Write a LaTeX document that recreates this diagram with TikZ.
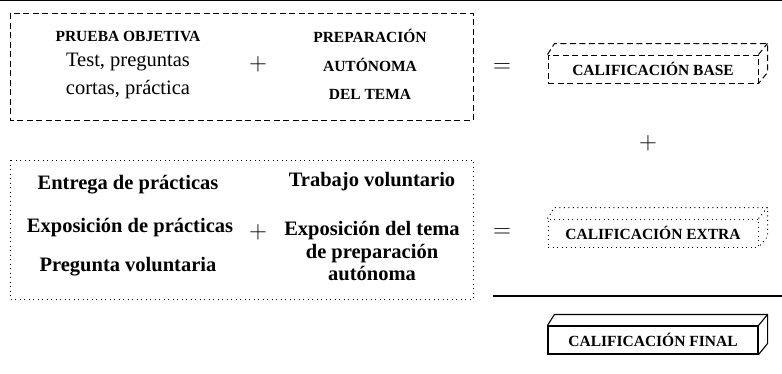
\documentclass[tikz,border=0pt]{standalone}
\usepackage{fontspec}
\setmainfont{Liberation Serif}
\usetikzlibrary{positioning}

\tikzset{
  head/.style={font=\bfseries\fontsize{15.5}{18}\selectfont},
  plain/.style={font=\fontsize{20.5}{24}\selectfont},
  item/.style={font=\bfseries\fontsize{20.5}{22.5}\selectfont},
  sign/.style={font=\fontsize{24}{26}\selectfont},
  dashbox/.style={line width=1pt,dash pattern=on 6pt off 3.5pt},
  dotbox/.style={line width=1pt,dash pattern=on 1pt off 3.5pt},
  result/.style={minimum width=210pt,minimum height=28pt,inner sep=0pt,
                 font=\bfseries\fontsize{15.5}{18}\selectfont},
}

\begin{document}
\begin{tikzpicture}[x=1pt,y=-1pt]
\useasboundingbox (0,0) rectangle (782,373);

\draw[line width=1.5pt] (0,0.7) -- (782,0.7);

% parte base
\draw[dashbox] (10,13) rectangle (473,120);
\node[head]  (prueba) at (128,36) {PRUEBA OBJETIVA};
\node[plain] (test)   at (128,62) {Test, preguntas};
\node[plain] (cortas) at (128,90) {cortas, práctica};
\node[sign]  (plusA)  at (258,64) {$+$};
\node[head]  (prep)   at (370,36) {PREPARACIÓN};
\node[head]  (auto)   at (370,65) {AUTÓNOMA};
\node[head]  (tema)   at (370,94) {DEL TEMA};
\node[sign]  (eqA)    at (502,68) {$=$};

\node[result,draw,dashbox] (base) at (653,69) {CALIFICACIÓN BASE};
\draw[dashbox] (base.north west) -- ++(7,-11)
      -- ([shift={(9,-11)}]base.north east)
      -- ([shift={(9,-11)}]base.south east) -- (base.south east);
\draw[dashbox] (base.north east) -- ++(9,-11);

\node[sign] (plusC) at (648,143) {$+$};

% parte extra
\draw[dotbox] (10,160) rectangle (473,299);
\node[item] (entrega) at (128,185) {Entrega de prácticas};
\node[item] (expo)    at (130,228) {Exposición de prácticas};
\node[item] (preg)    at (128,267) {Pregunta voluntaria};
\node[sign] (plusB)   at (258,232) {$+$};
\node[item] (trabajo) at (372,182) {Trabajo voluntario};
\node[item, align=center] (expotema) at (372,251)
      {Exposición del tema\\ de preparación\\ autónoma};
\node[sign] (eqB) at (502,233) {$=$};

\node[result,draw,dotbox] (extra) at (653,233) {CALIFICACIÓN EXTRA};
\draw[dotbox] (extra.north west) -- ++(7,-11)
      -- ([shift={(9,-11)}]extra.north east)
      -- ([shift={(9,-11)}]extra.south east) -- (extra.south east);
\draw[dotbox] (extra.north east) -- ++(9,-11);

\draw[line width=1.3pt] (493,296) -- (782,296);

% resultado
\node[result,draw,line width=1.1pt] (final) at (653,340) {CALIFICACIÓN FINAL};
\draw[line width=1.1pt] (final.north west) -- ++(7,-11)
      -- ([shift={(9,-11)}]final.north east)
      -- ([shift={(9,-11)}]final.south east) -- (final.south east);
\draw[line width=1.1pt] (final.north east) -- ++(9,-11);
\end{tikzpicture}
\end{document}
